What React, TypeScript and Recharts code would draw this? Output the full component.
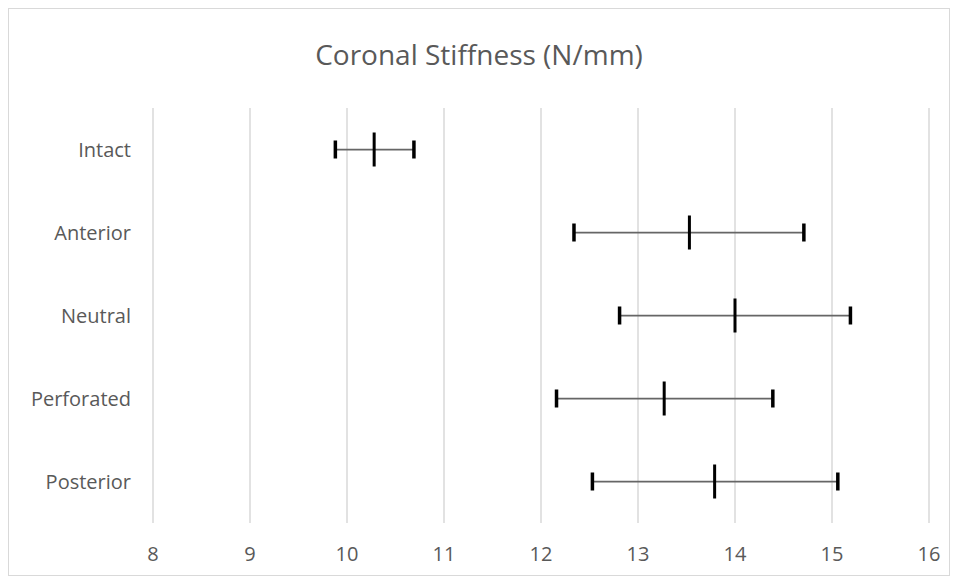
import React from 'react';
import {
  ScatterChart,
  Scatter,
  XAxis,
  YAxis,
  CartesianGrid,
  ErrorBar,
} from 'recharts';

// values
const categories = ['Intact', 'Anterior', 'Neutral', 'Perforated', 'Posterior'];
const means = [10.28, 13.53, 14.0, 13.27, 13.79];
const lows = [9.88, 12.34, 12.81, 12.16, 12.53];
const highs = [10.69, 14.71, 15.19, 14.39, 15.06];
const xTicks = [8, 9, 10, 11, 12, 13, 14, 15, 16];

const meanPoints = categories.map((name, i) => ({
  name,
  x: means[i],
  err: [means[i] - lows[i], highs[i] - means[i]],
}));
const lowPoints = categories.map((name, i) => ({ name, x: lows[i] }));
const highPoints = categories.map((name, i) => ({ name, x: highs[i] }));

const tickStyle = { fill: '#595959', fontSize: 20, fontFamily: 'Open Sans' };

const MeanMark = (props: any) => (
  <rect x={props.cx - 1.5} y={props.cy - 17} width={3} height={34} fill="#000" />
);

const CapMark = (props: any) => (
  <rect x={props.cx - 1.75} y={props.cy - 9} width={3.5} height={18} fill="#000" />
);

export default function App() {
  return (
    <div
      style={{
        position: 'relative',
        width: 940,
        height: 566,
        border: '1px solid #d9d9d9',
        fontFamily: 'Open Sans',
      }}
    >
      <div
        style={{
          position: 'absolute',
          top: 31,
          left: 0,
          width: '100%',
          textAlign: 'center',
          fontSize: 28,
          lineHeight: '28px',
          color: '#595959',
        }}
      >
        Coronal Stiffness (N/mm)
      </div>
      <ScatterChart
        width={940}
        height={566}
        margin={{ top: 99, right: 20, left: 14, bottom: 22 }}
      >
        <CartesianGrid horizontal={false} stroke="#d9d9d9" strokeWidth={1.5} />
        <XAxis
          type="number"
          dataKey="x"
          domain={[8, 16]}
          ticks={xTicks}
          axisLine={false}
          tickLine={false}
          tickMargin={18}
          height={30}
          tick={tickStyle}
          allowDataOverflow
        />
        <YAxis
          type="category"
          dataKey="name"
          reversed
          allowDuplicatedCategory={false}
          axisLine={false}
          tickLine={false}
          tickMargin={16}
          width={130}
          tick={tickStyle}
        />
        <Scatter data={meanPoints} shape={MeanMark} isAnimationActive={false}>
          <ErrorBar
            dataKey="err"
            direction="x"
            width={0}
            stroke="#666666"
            strokeWidth={1.75}
            isAnimationActive={false}
          />
        </Scatter>
        <Scatter data={lowPoints} shape={CapMark} isAnimationActive={false} />
        <Scatter data={highPoints} shape={CapMark} isAnimationActive={false} />
      </ScatterChart>
    </div>
  );
}
